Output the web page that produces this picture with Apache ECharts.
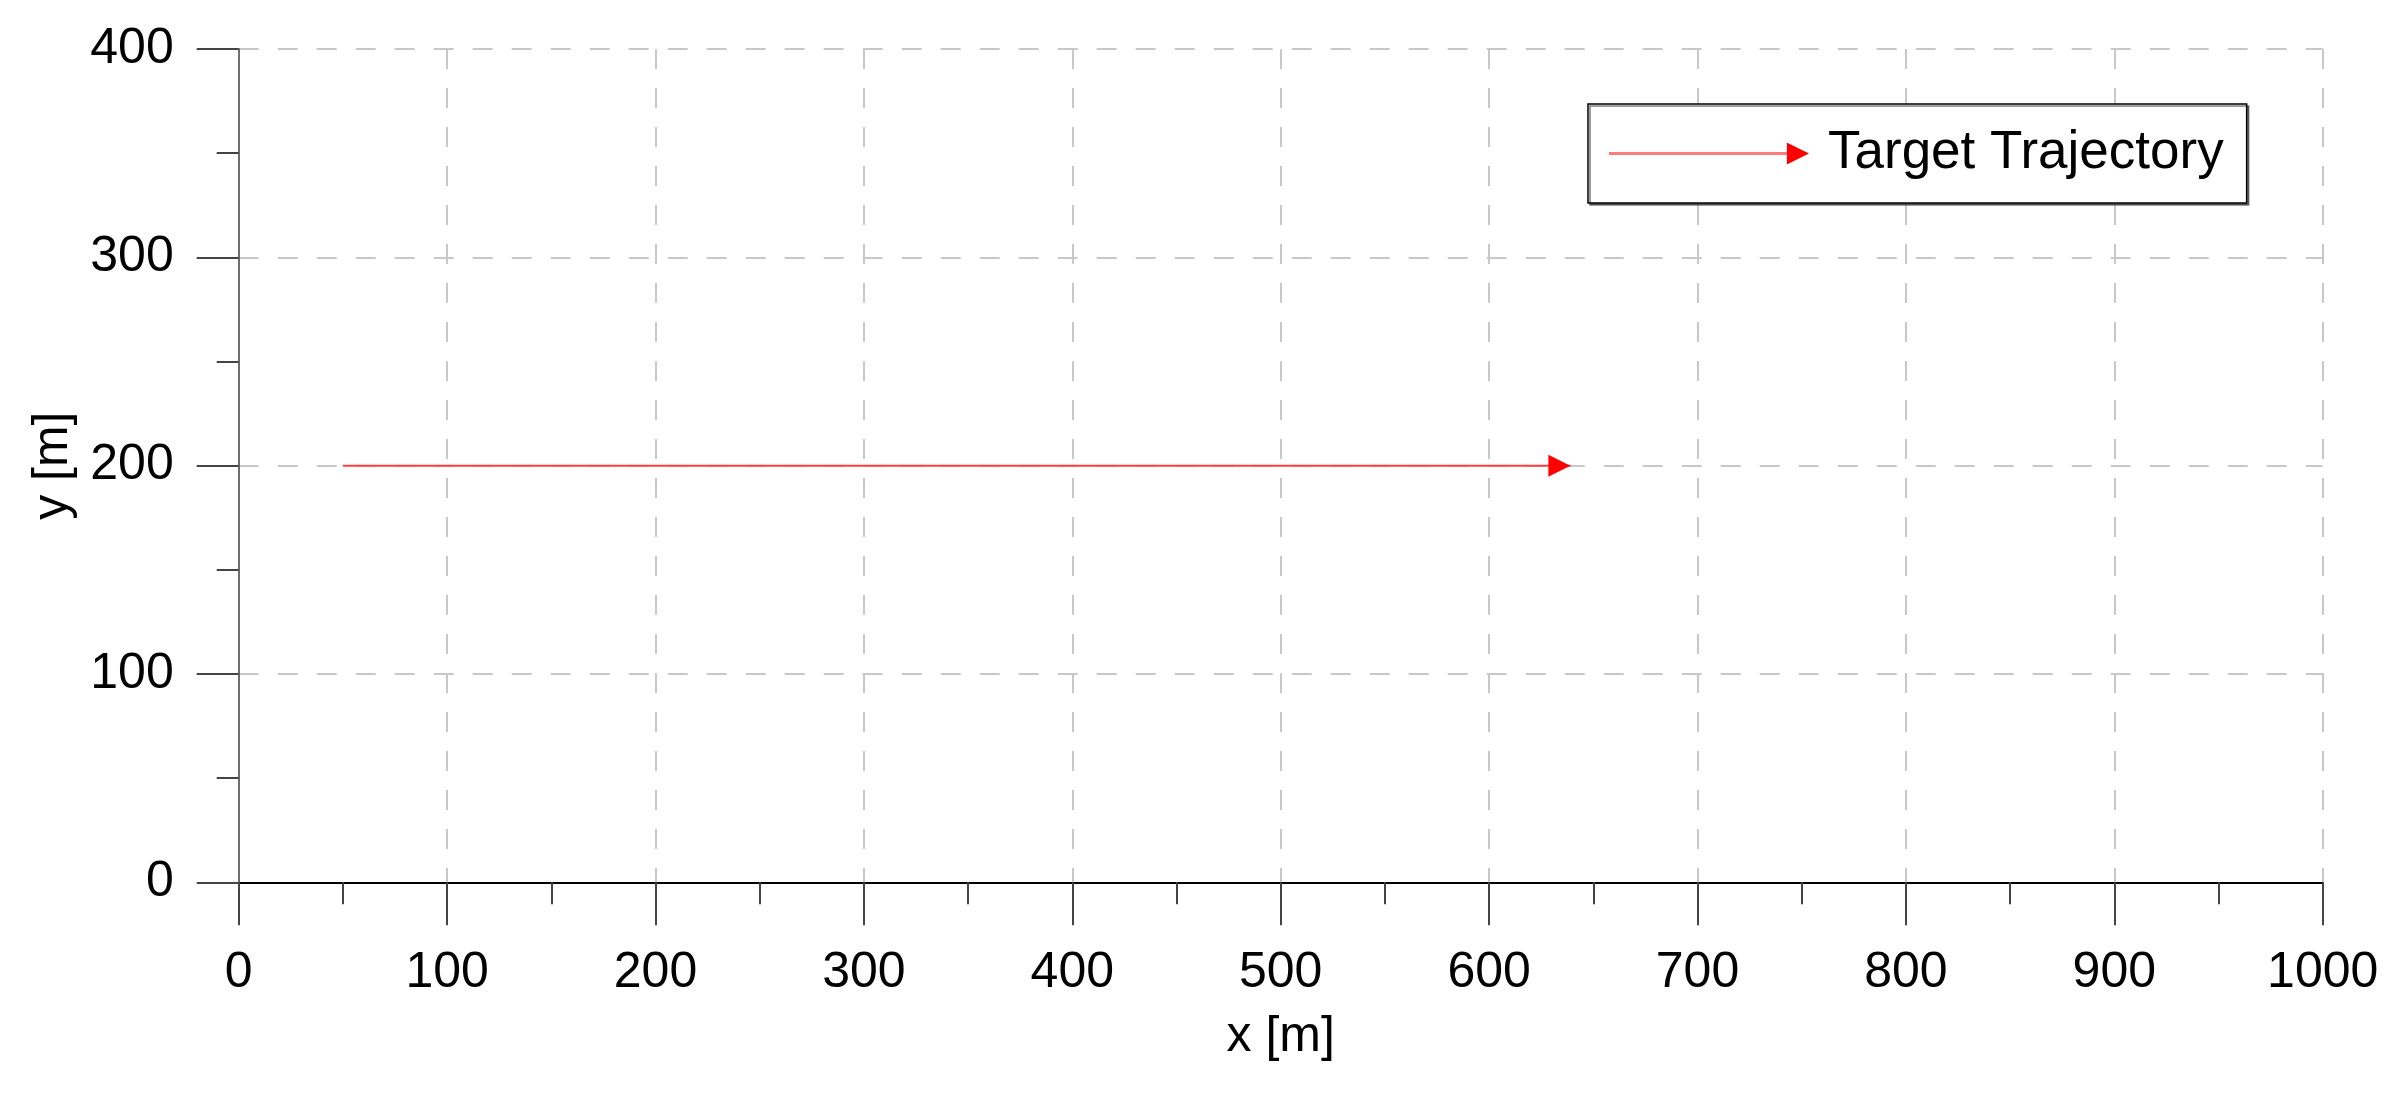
<!DOCTYPE html>
<html>
<head>
<meta charset="utf-8">
<script src="https://cdn.jsdelivr.net/npm/echarts@6/dist/echarts.min.js"></script>
<style>
html,body{margin:0;padding:0;background:#fff;}
#chart{width:2397px;height:1094px;}
</style>
</head>
<body>
<div id="chart"></div>
<script>
const seriesName = 'Target Trajectory';
const trajX = [50, 639];
const trajY = [200, 200];
const xTicks = [0, 100, 200, 300, 400, 500, 600, 700, 800, 900, 1000];
const yTicks = [0, 100, 200, 300, 400];

const FONT = 'Liberation Sans, Arial, sans-serif';
const chart = echarts.init(document.getElementById('chart'), null, {renderer: 'canvas'});

const data = trajX.map((x, i) => {
  const p = {value: [x, trajY[i]]};
  if (i === trajX.length - 1) {
    p.symbol = 'triangle';
    p.symbolSize = [22, 22];
    p.symbolRotate = -90;
    p.symbolOffset = [-11, 0];
  } else {
    p.symbol = 'none';
  }
  return p;
});

const gridStyle = {show: true, lineStyle: {color: '#c8c8c8', width: 2, type: [20, 19]}};

const legendGrad = new echarts.graphic.LinearGradient(0, 0, 1, 0, [
  {offset: 0, color: '#ff7b7b'},
  {offset: 0.888, color: '#ff7b7b'},
  {offset: 0.889, color: '#ff0000'},
  {offset: 1, color: '#ff0000'}
]);

chart.setOption({
  animation: false,
  backgroundColor: '#fff',
  grid: {left: 238.7, right: 74.3, top: 49, bottom: 211.7, containLabel: false},
  legend: {
    show: true,
    left: 1588, top: 104,
    orient: 'vertical',
    data: [{name: seriesName, icon: 'path://M0,9.5 L178,9.5 L178,12.5 L0,12.5 Z M177.8,0 L200,11 L177.8,22 Z'}],
    itemWidth: 200, itemHeight: 22,
    padding: [23, 23, 23, 21],
    borderColor: '#000', borderWidth: 1.5,
    backgroundColor: '#fff',
    shadowColor: 'rgba(0,0,0,0.5)', shadowOffsetX: 2, shadowOffsetY: 2, shadowBlur: 0,
    itemStyle: {color: legendGrad},
    textStyle: {fontSize: 53, fontFamily: FONT, color: '#000', padding: [0, 0, 0, 14]}
  },
  xAxis: {
    type: 'value', min: xTicks[0], max: xTicks[xTicks.length - 1], interval: 100,
    name: 'x [m]', nameLocation: 'middle', nameGap: 130,
    nameTextStyle: {fontSize: 50, fontFamily: FONT, color: '#000'},
    axisLine: {show: true, onZero: false, lineStyle: {color: '#000', width: 2}},
    axisTick: {show: true, inside: false, length: 43, lineStyle: {color: '#444', width: 2}},
    minorTick: {show: true, splitNumber: 2, length: 22, lineStyle: {color: '#444', width: 2}},
    axisLabel: {margin: 66, fontSize: 50, fontFamily: FONT, color: '#000',
      formatter: v => xTicks.includes(v) ? String(v) : ''},
    splitLine: gridStyle
  },
  yAxis: {
    type: 'value', min: yTicks[0], max: yTicks[yTicks.length - 1], interval: 100,
    name: 'y [m]', nameLocation: 'middle', nameGap: 160, nameRotate: 90,
    nameTextStyle: {fontSize: 50, fontFamily: FONT, color: '#000'},
    axisLine: {show: true, onZero: false, lineStyle: {color: '#6e6e6e', width: 2}},
    axisTick: {show: true, inside: false, length: 42, lineStyle: {color: '#444', width: 2}},
    minorTick: {show: true, splitNumber: 2, length: 22, lineStyle: {color: '#444', width: 2}},
    axisLabel: {margin: 65, fontSize: 50, fontFamily: FONT, color: '#000',
      formatter: v => yTicks.includes(v) ? String(v) : ''},
    splitLine: gridStyle
  },
  series: [{
    name: seriesName,
    type: 'line',
    data: data,
    showSymbol: true,
    lineStyle: {color: '#ff4040', width: 2},
    itemStyle: {color: '#ff0000'},
    z: 5
  }]
});
</script>
</body>
</html>
